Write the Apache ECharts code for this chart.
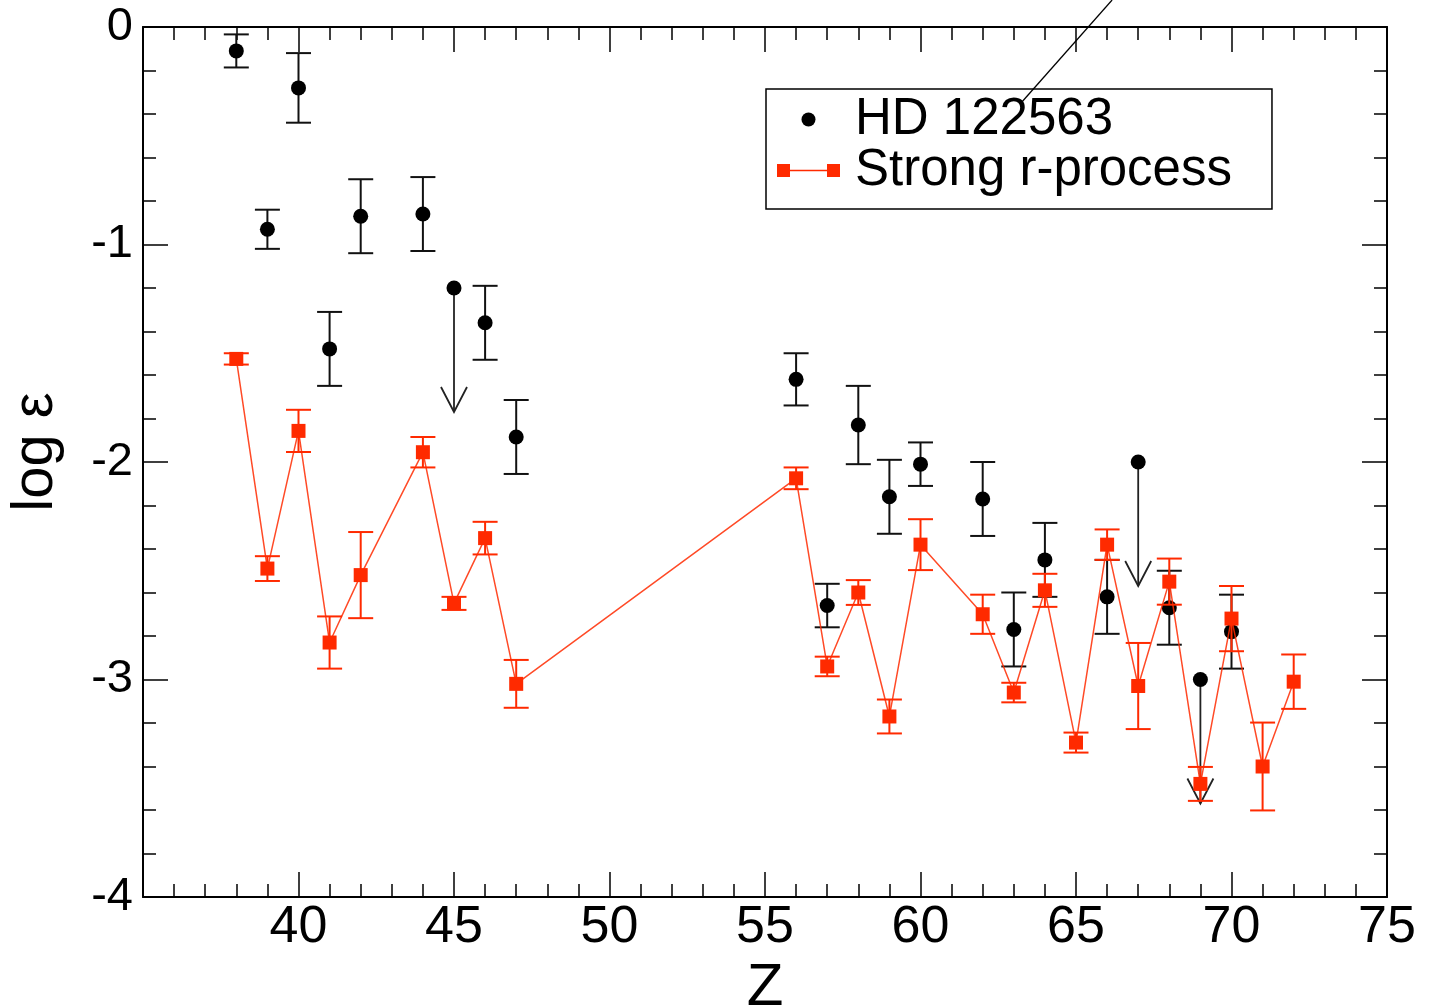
<!DOCTYPE html>
<html>
<head>
<meta charset="utf-8">
<script src="https://cdn.jsdelivr.net/npm/echarts@6/dist/echarts.min.js"></script>
<style>
  html, body { margin: 0; padding: 0; background: #ffffff; overflow: hidden; }
  #chart { width: 1429px; height: 1007px; }
</style>
</head>
<body>
<div id="chart"></div>
<script>
// ---------------- data ----------------
// HD 122563 measured abundances (Z, log eps, error)
const hdZ   = [38, 39, 40, 41, 42, 44, 46, 47, 56, 57, 58, 59, 60, 62, 63, 64, 66, 68, 70];
const hdVal = [-0.11, -0.93, -0.28, -1.48, -0.87, -0.86, -1.36, -1.885, -1.62, -2.66, -1.83, -2.16, -2.01, -2.17, -2.77, -2.45, -2.62, -2.67, -2.78];
const hdErr = [0.076, 0.09, 0.16, 0.17, 0.17, 0.17, 0.17, 0.17, 0.12, 0.10, 0.18, 0.17, 0.10, 0.17, 0.17, 0.17, 0.17, 0.17, 0.17];

// HD 122563 upper limits (value and arrow tip)
const ulZ   = [45, 67, 69];
const ulVal = [-1.20, -2.00, -3.00];
const ulTip = [-1.77, -2.57, -3.57];

// Strong r-process pattern
const rZ   = [38, 39, 40, 41, 42, 44, 45, 46, 47, 56, 57, 58, 59, 60, 62, 63, 64, 65, 66, 67, 68, 69, 70, 71, 72];
const rVal = [-1.526, -2.49, -1.857, -2.83, -2.52, -1.955, -2.65, -2.35, -3.02, -2.075, -2.94, -2.60, -3.17, -2.38, -2.70, -3.06, -2.59, -3.29, -2.38, -3.03, -2.55, -3.48, -2.72, -3.40, -3.01];
const rErr = [0.026, 0.057, 0.097, 0.12, 0.198, 0.07, 0.03, 0.075, 0.11, 0.05, 0.045, 0.057, 0.078, 0.117, 0.09, 0.045, 0.076, 0.046, 0.07, 0.198, 0.106, 0.078, 0.15, 0.202, 0.125];

// stray pointer line (annotation in original figure)
const ptrZ = [63.26, 66.16];
const ptrV = [-0.345, 0.124];

// axis ticks
const xTicks = { min: 35, max: 75, step: 5 };
const yTicks = { min: -4, max: 0, step: 1 };

// ---------------- chart ----------------
const RED = '#ff2a00';
const FONT = 'Liberation Sans';
const chart = echarts.init(document.getElementById('chart'), null, { renderer: 'canvas' });

const hdData = hdZ.map((z, i) => [z, hdVal[i], hdErr[i]]);
const rData = rZ.map((z, i) => [z, rVal[i], rErr[i]]);
const ulData = ulZ.map((z, i) => [z, ulVal[i], ulTip[i]]);
const ptrData = ptrZ.map((z, i) => [z, ptrV[i]]);

function errRender(color) {
  return function (params, api) {
    const z = api.value(0), v = api.value(1), e = api.value(2);
    const top = api.coord([z, v + e]);
    const bot = api.coord([z, v - e]);
    const hw = 12.5;
    const st = { stroke: color, lineWidth: 2, fill: null };
    return {
      type: 'group',
      children: [
        { type: 'line', shape: { x1: top[0], y1: top[1], x2: bot[0], y2: bot[1] }, style: st },
        { type: 'line', shape: { x1: top[0] - hw, y1: top[1], x2: top[0] + hw, y2: top[1] }, style: st },
        { type: 'line', shape: { x1: bot[0] - hw, y1: bot[1], x2: bot[0] + hw, y2: bot[1] }, style: st }
      ]
    };
  };
}

function arrowRender(params, api) {
  const z = api.value(0), v = api.value(1), t = api.value(2);
  const a = api.coord([z, v]);
  const b = api.coord([z, t]);
  const st = { stroke: '#222', lineWidth: 1.8, fill: null };
  return {
    type: 'group',
    children: [
      { type: 'line', shape: { x1: a[0], y1: a[1], x2: b[0], y2: b[1] }, style: st },
      { type: 'polyline', shape: { points: [[b[0] - 13, b[1] - 25], [b[0], b[1]], [b[0] + 13, b[1] - 25]] }, style: st }
    ]
  };
}

const axisCommon = {
  type: 'value',
  splitLine: { show: false },
  axisLine: { show: true, onZero: false, lineStyle: { color: '#000', width: 2 } },
  axisTick: { show: true, inside: true, length: 25, lineStyle: { color: '#000', width: 1.5 } },
  minorTick: { show: true, splitNumber: 5, length: 13, lineStyle: { color: '#000', width: 1.5 } },
  minorSplitLine: { show: false }
};

const option = {
  backgroundColor: '#ffffff',
  animation: false,
  grid: { left: 143, top: 27, right: 42, bottom: 110, containLabel: false, outerBoundsMode: 'none' },
  legend: {
    orient: 'vertical',
    left: 766,
    top: 89,
    padding: [5, 40, 13, 11],
    itemGap: 0,
    itemWidth: 63,
    itemHeight: 14,
    borderColor: '#000',
    borderWidth: 1.5,
    borderRadius: 0,
    backgroundColor: 'rgba(255,255,255,0)',
    textStyle: { fontFamily: FONT, fontSize: 51, color: '#000', lineHeight: 48, padding: [0, 0, 0, 10] },
    data: [
      { name: 'HD 122563', icon: 'circle' },
      { name: 'Strong r-process', icon: 'path://M0,0H13V13H0Z M50,0H63V13H50Z M13,5.8H50V7.2H13Z' }
    ]
  },
  xAxis: [
    Object.assign({}, axisCommon, {
      position: 'bottom',
      min: xTicks.min, max: xTicks.max, interval: xTicks.step,
      name: 'Z', nameLocation: 'middle', nameGap: 49,
      nameTextStyle: { fontFamily: FONT, fontSize: 60, color: '#000' },
      axisLabel: { show: true, showMinLabel: false, margin: 5, fontFamily: FONT, fontSize: 52, color: '#000' }
    }),
    Object.assign({}, axisCommon, {
      position: 'top',
      min: xTicks.min, max: xTicks.max, interval: xTicks.step,
      axisLabel: { show: false }
    })
  ],
  yAxis: [
    Object.assign({}, axisCommon, {
      position: 'left',
      min: yTicks.min, max: yTicks.max, interval: yTicks.step,
      name: 'log ε', nameLocation: 'middle', nameGap: 78, nameRotate: 90,
      nameTextStyle: { fontFamily: FONT, fontSize: 58, color: '#000', padding: [0, 0, 0, 20] },
      axisLabel: { show: true, margin: 10, fontFamily: FONT, fontSize: 47, color: '#000' }
    }),
    Object.assign({}, axisCommon, {
      position: 'right',
      min: yTicks.min, max: yTicks.max, interval: yTicks.step,
      axisLabel: { show: false }
    })
  ],
  series: [
    {
      name: 'pointer',
      type: 'line',
      xAxisIndex: 0, yAxisIndex: 0,
      data: ptrData,
      clip: false,
      symbol: 'none',
      silent: true,
      lineStyle: { color: '#000', width: 1.3 },
      z: 5
    },
    {
      name: 'HD err',
      type: 'custom',
      xAxisIndex: 0, yAxisIndex: 0,
      data: hdData,
      renderItem: errRender('#111'),
      encode: { x: 0, y: 1 },
      z: 2
    },
    {
      name: 'HD limits',
      type: 'custom',
      xAxisIndex: 0, yAxisIndex: 0,
      data: ulData,
      renderItem: arrowRender,
      encode: { x: 0, y: 1 },
      z: 2
    },
    {
      name: 'HD 122563',
      type: 'scatter',
      xAxisIndex: 0, yAxisIndex: 0,
      data: hdData.concat(ulData.map(d => [d[0], d[1], 0])),
      symbol: 'circle',
      symbolSize: 15,
      itemStyle: { color: '#000', opacity: 1 },
      z: 3
    },
    {
      name: 'r err',
      type: 'custom',
      xAxisIndex: 0, yAxisIndex: 0,
      data: rData,
      renderItem: errRender(RED),
      encode: { x: 0, y: 1 },
      z: 4
    },
    {
      name: 'Strong r-process',
      type: 'line',
      xAxisIndex: 0, yAxisIndex: 0,
      data: rData.map(d => [d[0], d[1]]),
      symbol: 'rect',
      symbolSize: 14,
      showAllSymbol: true,
      itemStyle: { color: RED, opacity: 1 },
      lineStyle: { color: RED, width: 1.5, opacity: 0.85 },
      z: 4
    }
  ]
};

chart.setOption(option);
</script>
</body>
</html>
